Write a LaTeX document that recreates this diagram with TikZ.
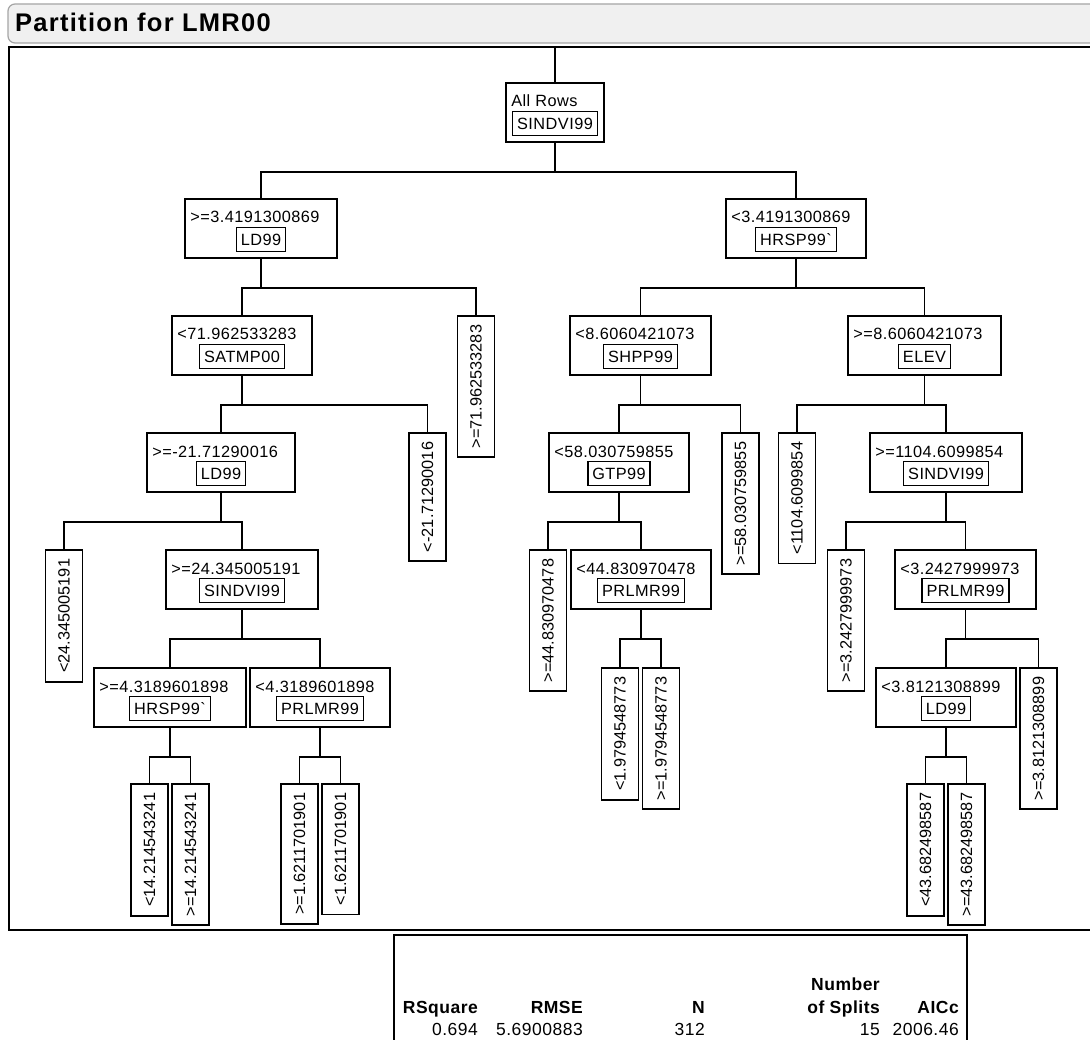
\documentclass[tikz,border=0pt]{standalone}
\usepackage{fontspec}
\newfontfamily\jmp{Liberation Sans}[LetterSpace=2.8]
\newfontfamily\jmpplain{Liberation Sans}
\newfontfamily\jmptitle{Liberation Sans}[LetterSpace=5]
\newcommand{\inode}[6]{%
  \node[box, minimum width=#4pt] (#1) at (#2,#3) {};
  \node[cond] (#1c) at ([shift={(6pt,-25pt)}]#1.north west) {#5};
  \node[var] (#1v) at ([yshift=-41.5pt]#1.north) {#6};
}
\begin{document}
\begin{tikzpicture}[x=1pt,y=-1pt,
  every node/.style={font=\jmp\fontsize{16.3}{18}\selectfont},
  box/.style={draw, line width=1.8pt, anchor=north, minimum height=59pt, inner sep=0pt},
  cond/.style={anchor=base west, inner sep=0pt},
  var/.style={draw, line width=1.5pt, minimum height=24pt, inner xsep=4.5pt, inner ysep=0pt},
  leaf/.style={draw, line width=1.8pt, rotate=90, anchor=east, minimum height=37pt, inner xsep=9pt, inner ysep=0pt,
    font=\jmpplain\fontsize{16.3}{18}\selectfont},
  link/.style={line width=1.8pt},
  frameline/.style={line width=1.6pt},
  titletext/.style={font=\jmptitle\bfseries\fontsize{25.5}{29}\selectfont, anchor=base west, inner sep=0pt},
  hdr/.style={font=\jmp\bfseries\fontsize{17.5}{21}\selectfont, anchor=base east, inner sep=0pt},
  val/.style={font=\jmp\fontsize{17.5}{21}\selectfont, anchor=base east, inner sep=0pt}
]
\useasboundingbox (0,0) rectangle (1090,1040);
\fill[white] (0,0) rectangle (1090,1040);
% title bar
\draw[rounded corners=7pt, fill={rgb,255:red,240;green,240;blue,240}, draw={rgb,255:red,165;green,165;blue,165}, line width=1.2pt]
  (1110,4) -- (8,4) -- (8,43) -- (1110,43);
\node[titletext] (title) at (15,31.5) {Partition for LMR00};
% frame
\draw[frameline] (1110,47) -- (9,47) -- (9,930) -- (1110,930);
\coordinate (ftop) at (555,47);

% internal nodes
\inode{R}{555}{82}{98}{All Rows}{SINDVI99}
\inode{A}{261}{198}{152}{>=3.4191300869}{LD99}
\inode{B}{796}{198}{140}{<3.4191300869}{HRSP99\symbol{96}}
\inode{A1}{242}{315}{140}{<71.962533283}{SATMP00}
\inode{A11}{221}{432}{148}{>=-21.71290016}{LD99}
\inode{A112}{242}{549}{152}{>=24.345005191}{SINDVI99}
\inode{A1121}{170}{667}{152}{>=4.3189601898}{HRSP99\symbol{96}}
\inode{A1122}{320}{667}{140}{<4.3189601898}{PRLMR99}
\inode{B1}{640.5}{315}{141}{<8.6060421073}{SHPP99}
\inode{B11}{619}{432}{140}{<58.030759855}{GTP99}
\inode{B112}{641}{549}{140}{<44.830970478}{PRLMR99}
\inode{B2}{924.5}{315}{153}{>=8.6060421073}{ELEV}
\inode{B22}{946}{432}{152}{>=1104.6099854}{SINDVI99}
\inode{B222}{965.5}{549}{141}{<3.2427999973}{PRLMR99}
\inode{B2221}{946}{667}{140}{<3.8121308899}{LD99}

% leaves
\node[leaf] (A2) at (476,315) {>=71.962533283};
\node[leaf] (A12) at (427.5,432) {<-21.71290016};
\node[leaf] (A111) at (64,549) {<24.345005191};
\node[leaf] (L1) at (149.5,783) {<14.214543241};
\node[leaf] (L2) at (190.5,783) {>=14.214543241};
\node[leaf] (L3) at (299.5,783) {>=1.6211701901};
\node[leaf] (L4) at (340.5,783) {<1.6211701901};
\node[leaf] (B12) at (740.5,432) {>=58.030759855};
\node[leaf] (B111) at (548,549) {>=44.830970478};
\node[leaf] (L5) at (620,667) {<1.9794548773};
\node[leaf] (L6) at (661,667) {>=1.9794548773};
\node[leaf] (B21) at (797,432) {<1104.6099854};
\node[leaf] (B221) at (846,549) {>=3.2427999973};
\node[leaf] (B2222) at (1038.5,667) {>=3.8121308899};
\node[leaf] (L7) at (925.5,783) {<43.682498587};
\node[leaf] (L8) at (966.5,783) {>=43.682498587};

% connectors
\draw[link] (ftop) -- (R.north);
\draw[link] (R.south) -- ++(0,-29pt) -| (A.north);
\draw[link] (R.south) -- ++(0,-29pt) -| (B.north);
\draw[link] (A.south) -- ++(0,-29pt) -| (A1.north);
\draw[link] (A.south) -- ++(0,-29pt) -| (A2.east);
\draw[link] (A1.south) -- ++(0,-29pt) -| (A11.north);
\draw[link] (A1.south) -- ++(0,-29pt) -| (A12.east);
\draw[link] (A11.south) -- ++(0,-29pt) -| (A111.east);
\draw[link] (A11.south) -- ++(0,-29pt) -| (A112.north);
\draw[link] (A112.south) -- ++(0,-29pt) -| (A1121.north);
\draw[link] (A112.south) -- ++(0,-29pt) -| (A1122.north);
\draw[link] (A1121.south) -- ++(0,-29pt) -| (L1.east);
\draw[link] (A1121.south) -- ++(0,-29pt) -| (L2.east);
\draw[link] (A1122.south) -- ++(0,-29pt) -| (L3.east);
\draw[link] (A1122.south) -- ++(0,-29pt) -| (L4.east);
\draw[link] (B.south) -- ++(0,-29pt) -| (B1.north);
\draw[link] (B.south) -- ++(0,-29pt) -| (B2.north);
\draw[link] (B1.south) -- ++(0,-29pt) -| (B11.north);
\draw[link] (B1.south) -- ++(0,-29pt) -| (B12.east);
\draw[link] (B11.south) -- ++(0,-29pt) -| (B111.east);
\draw[link] (B11.south) -- ++(0,-29pt) -| (B112.north);
\draw[link] (B112.south) -- ++(0,-29pt) -| (L5.east);
\draw[link] (B112.south) -- ++(0,-29pt) -| (L6.east);
\draw[link] (B2.south) -- ++(0,-29pt) -| (B21.east);
\draw[link] (B2.south) -- ++(0,-29pt) -| (B22.north);
\draw[link] (B22.south) -- ++(0,-29pt) -| (B221.east);
\draw[link] (B22.south) -- ++(0,-29pt) -| (B222.north);
\draw[link] (B222.south) -- ++(0,-29pt) -| (B2221.north);
\draw[link] (B222.south) -- ++(0,-29pt) -| (B2222.east);
\draw[link] (B2221.south) -- ++(0,-29pt) -| (L7.east);
\draw[link] (B2221.south) -- ++(0,-29pt) -| (L8.east);

% summary table
\draw[frameline] (394,1060) -- (394,935) -- (967,935) -- (967,1060);
\node[hdr] (tNum) at (880,990) {Number};
\node[hdr] (tRS) at (478,1013) {RSquare};
\node[hdr] (tRM) at (583,1013) {RMSE};
\node[hdr] (tN) at (705,1013) {N};
\node[hdr] (tSp) at (880,1013) {of Splits};
\node[hdr] (tAI) at (959,1013) {AICc};
\node[val] (vRS) at (478,1035) {0.694};
\node[val] (vRM) at (583,1035) {5.6900883};
\node[val] (vN) at (705,1035) {312};
\node[val] (vSp) at (880,1035) {15};
\node[val] (vAI) at (959,1035) {2006.46};
\end{tikzpicture}
\end{document}
